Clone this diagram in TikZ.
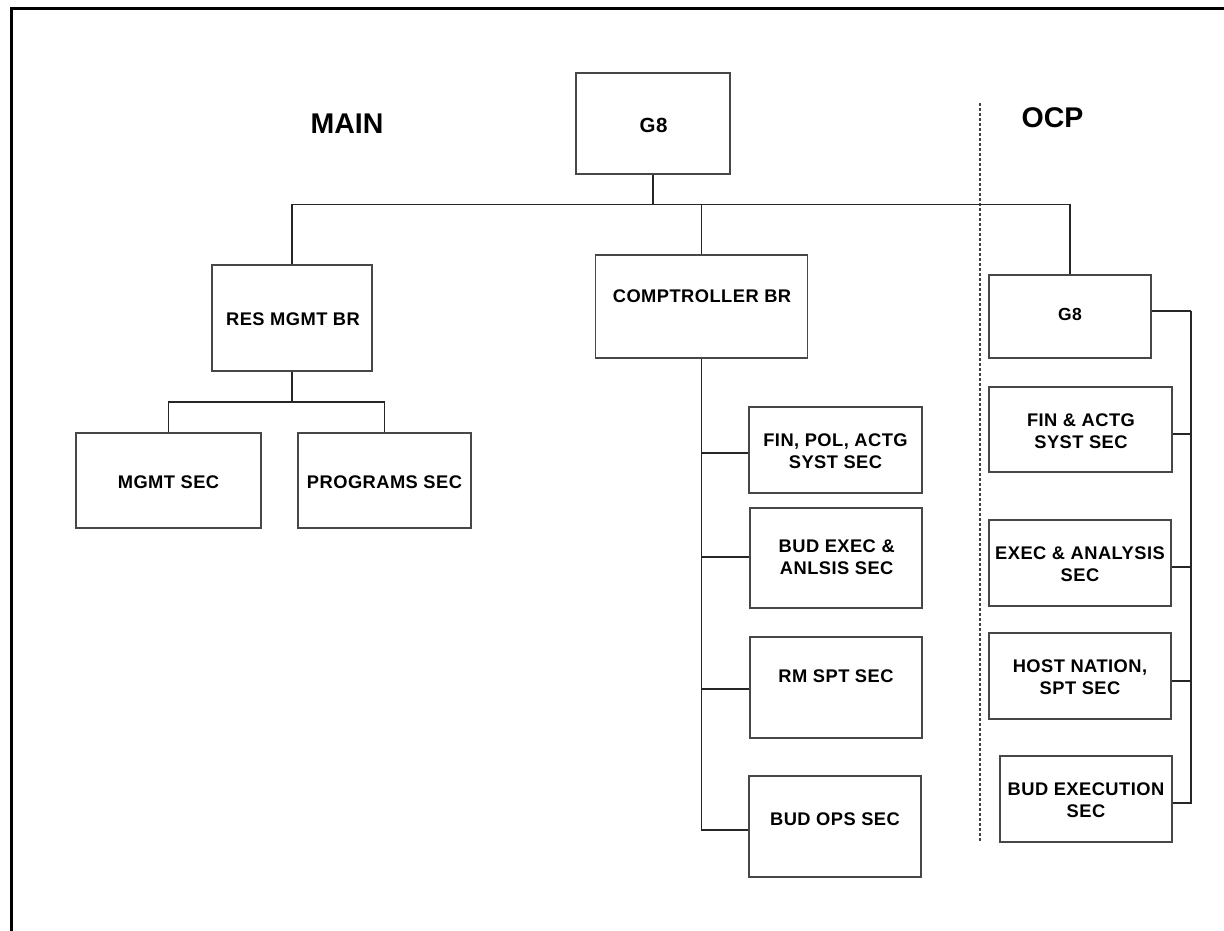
\documentclass[tikz,border=0pt]{standalone}
\usepackage{fontspec}
\setmainfont{Liberation Sans}
\newfontfamily\lblfont{Liberation Sans}[LetterSpace=2.5]
\begin{document}
\begin{tikzpicture}[x=1pt,y=-1pt,
  box/.style={draw=black!72, line width=1.3pt, inner sep=0pt},
  lbl/.style={font=\lblfont\bfseries\fontsize{18.3}{22}\selectfont, align=center, anchor=north, inner sep=0pt},
  ttl/.style={font=\bfseries\fontsize{28.5}{30}\selectfont, inner sep=0pt, anchor=base},
  wire/.style={draw=black!85, line width=1.3pt},
  divider/.style={draw=black!75, line width=1.2pt, dash pattern=on 3pt off 2pt}]
\clip (0,0) rectangle (1224,930);
\useasboundingbox (0,0) rectangle (1224,930);
% outer frame
\draw[line width=3pt] (11,8) rectangle (1260,960);

% titles
\node[ttl] (tmain) at (347,133) {MAIN};
\node[ttl] (tocp) at (1052.5,127.8) {OCP};
\coordinate (dT) at (980,103);
\coordinate (dB) at (980,842);
\draw[divider] (dT) -- (dB);

% boxes
\node[box, minimum width=154pt, minimum height=101pt] (g8) at (653,123.5) {};
\node[box, minimum width=160pt, minimum height=106pt] (res) at (292,318) {};
\node[box, minimum width=212pt, minimum height=103pt] (comp) at (701.5,306.5) {};
\node[box, minimum width=185pt, minimum height=95pt] (mgmt) at (168.5,480.5) {};
\node[box, minimum width=173pt, minimum height=95pt] (prog) at (384.5,480.5) {};
\node[box, minimum width=173pt, minimum height=86pt] (fin) at (835.5,450) {};
\node[box, minimum width=172pt, minimum height=100pt] (bud) at (836,558) {};
\node[box, minimum width=172pt, minimum height=101pt] (rm) at (836,687.5) {};
\node[box, minimum width=172pt, minimum height=101pt] (ops) at (835,826.5) {};
\node[box, minimum width=162pt, minimum height=83pt] (og8) at (1070,316.5) {};
\node[box, minimum width=183pt, minimum height=85pt] (ofin) at (1080.5,429.5) {};
\node[box, minimum width=182pt, minimum height=86pt] (oexec) at (1080,563) {};
\node[box, minimum width=182pt, minimum height=86pt] (ohost) at (1080,676) {};
\node[box, minimum width=172pt, minimum height=86pt] (obud) at (1086,799) {};

% labels
\node[lbl, font=\lblfont\bfseries\fontsize{20.5}{22}\selectfont] (g8t) at (653.5,118) {G8};
\node[lbl] (rest) at (293,313) {RES MGMT BR};
\node[lbl] (compt) at (702,289.5) {COMPTROLLER BR};
\node[lbl] (mgmtt) at (168.5,476) {MGMT SEC};
\node[lbl] (progt) at (384.5,476) {PROGRAMS SEC};
\node[lbl] (fint) at (835.5,433.3) {FIN, POL, ACTG\\SYST SEC};
\node[lbl] (budt) at (836.7,540) {BUD EXEC \&\\ANLSIS SEC};
\node[lbl] (rmt) at (836,670) {RM SPT SEC};
\node[lbl] (opst) at (835,812.7) {BUD OPS SEC};
\node[lbl, font=\lblfont\bfseries\fontsize{17.5}{22}\selectfont] (og8t) at (1070,308.5) {G8};
\node[lbl] (ofint) at (1081,413.3) {FIN \& ACTG\\SYST SEC};
\node[lbl] (oexect) at (1080,546.7) {EXEC \& ANALYSIS\\SEC};
\node[lbl] (ohostt) at (1080,659.3) {HOST NATION,\\SPT SEC};
\node[lbl] (obudt) at (1086,782.7) {BUD EXECUTION\\SEC};

% top bus
\coordinate (bus) at (653,204.3);
\draw[wire] (g8.south) -- (g8.south |- bus);
\draw[wire] (res.north) -- (res.north |- bus) -- (og8.north |- bus) -- (og8.north);
\draw[wire] (comp.north) -- (comp.north |- bus);

% res mgmt subtree
\coordinate (rj) at (292,402);
\draw[wire] (res.south) -- (rj);
\draw[wire] (mgmt.north) |- (rj) -| (prog.north);

% comptroller spine
\draw[wire] (comp.south) |- ([yshift=-3.5pt]ops.west);
\draw[wire] ([yshift=-3pt]fin.west) -| (comp.south);
\draw[wire] ([yshift=1pt]bud.west) -| (comp.south);
\draw[wire] ([yshift=-1.5pt]rm.west) -| (comp.south);

% OCP spine
\coordinate (ospine) at (1191,311);
\draw[wire] ([yshift=5.5pt]og8.east) -- (ospine);
\draw[wire] ([yshift=-4pt]obud.east) -| (ospine);
\draw[wire] ([yshift=-4.5pt]ofin.east) -| (ospine);
\draw[wire] ([yshift=-4pt]oexec.east) -| (ospine);
\draw[wire] ([yshift=-5pt]ohost.east) -| (ospine);
\end{tikzpicture}
\end{document}
